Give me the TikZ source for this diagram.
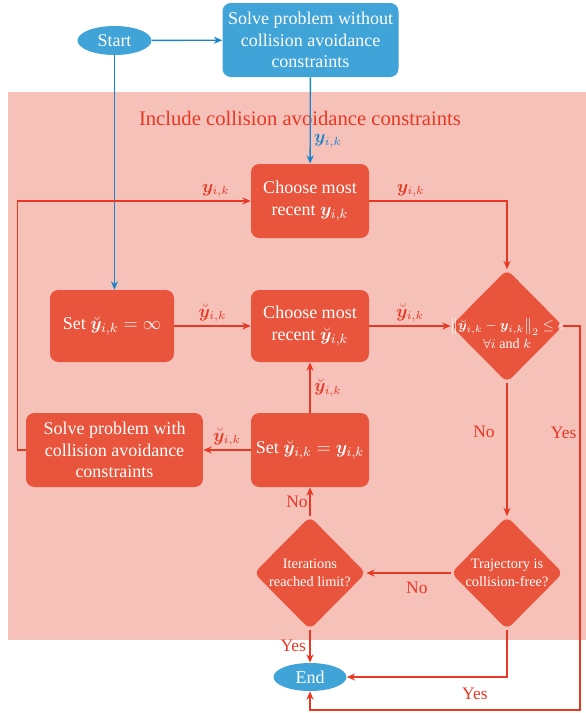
\documentclass[tikz,border=0pt]{standalone}
\usepackage{amsmath,bm}
\usepackage[no-math]{fontspec}
\setmainfont{Liberation Serif}
\usetikzlibrary{shapes.geometric,arrows.meta}
\definecolor{bgred}{RGB}{245,193,185}
\definecolor{boxred}{RGB}{232,84,60}
\definecolor{linered}{RGB}{232,56,36}
\definecolor{boxblue}{RGB}{64,164,216}
\definecolor{lineblue}{RGB}{24,132,204}
\tikzset{
  boxbase/.style={rectangle, rounded corners=5pt, text=white, align=center, inner sep=2pt, font=\fontsize{10.8}{13}\selectfont},
  bluebox/.style={boxbase, fill=boxblue},
  redbox/.style={boxbase, fill=boxred, minimum width=70.8pt, minimum height=44.4pt},
  ellbase/.style={ellipse, fill=boxblue, text=white, inner sep=0pt, minimum width=44.4pt, minimum height=17.4pt, font=\fontsize{10.8}{13}\selectfont},
  dia/.style={diamond, fill=boxred, rounded corners=4pt, inner sep=0pt, aspect=1, minimum width=67.2pt, minimum height=67.8pt},
  diatext/.style={text=white, align=center, inner sep=0pt, font=\fontsize{8.6}{11}\selectfont},
  rline/.style={draw=linered, line width=0.8pt, ->},
  bline/.style={draw=lineblue, line width=0.8pt, ->},
  rlab/.style={text=linered, font=\fontsize{10.5}{12}\selectfont, inner sep=2pt},
  blab/.style={text=lineblue, font=\fontsize{10.5}{12}\selectfont, inner sep=2pt},
  titletext/.style={text=linered, font=\fontsize{12.4}{14}\selectfont}
}
\begin{document}
\begin{tikzpicture}[x=0.6pt,y=-0.6pt, >={Stealth[length=5pt,width=4.2pt]}]
\useasboundingbox (0,0) rectangle (586,713);
\fill[bgred] (8,92) rectangle (586,640);
\node[titletext] (title) at (300,118) {Include collision avoidance constraints};

\node[ellbase] (start) at (114.5,40.5) {Start};
\node[bluebox, minimum width=105.6pt, minimum height=44.4pt] (solve0) at (310.5,40) {Solve problem without\\collision avoidance\\constraints};
\node[redbox] (chy) at (310,201) {Choose most\\recent $\bm{y}_{i,k}$};
\node[redbox, minimum width=74.4pt, minimum height=43.2pt] (setinf) at (112,326) {Set $\breve{\bm{y}}_{i,k}=\infty$};
\node[redbox, minimum height=43.2pt] (chb) at (310,326) {Choose most\\recent $\breve{\bm{y}}_{i,k}$};
\node[dia] (d1) at (507,326) {};
\node[diatext, font=\fontsize{8.5}{11}\selectfont, yshift=-4.5pt] (d1t) at (d1) {$\bigl\|\breve{\bm{y}}_{i,k}-\bm{y}_{i,k}\bigr\|_2\le\epsilon$\\$\forall i$ and $k$};
\node[redbox] (sety) at (310,450) {Set $\breve{\bm{y}}_{i,k}=\bm{y}_{i,k}$};
\node[redbox, minimum width=106.2pt] (solve1) at (114.5,450) {Solve problem with\\collision avoidance\\constraints};
\node[dia] (iter) at (310,573) {};
\node[diatext] (itert) at (iter) {Iterations\\reached limit?};
\node[dia] (traj) at (507,573) {};
\node[diatext] (trajt) at (traj) {Trajectory is\\collision-free?};
\node[ellbase, minimum width=43.8pt, minimum height=16.8pt] (end) at (310,677) {End};
\coordinate (yr) at (580,710);

\draw[bline] (start) -- (solve0);
\draw[bline] (start.south) -- (start.south |- setinf.north);
\draw[bline] (solve0) -- node[pos=0.74, right, blab] {$\bm{y}_{i,k}$} (chy);
\draw[rline] (chy.east) -| node[pos=0.15, above, rlab] {$\bm{y}_{i,k}$} (d1.north);
\draw[rline] (setinf) -- node[above, rlab] {$\breve{\bm{y}}_{i,k}$} (chb);
\draw[rline] (chb) -- node[above, rlab] {$\breve{\bm{y}}_{i,k}$} (d1);
\draw[rline] (d1) -- node[pos=0.37, left=5pt, rlab] {No} (traj);
\draw[rline] (d1.east) -| (yr) -| (end.south);
\node[rlab, left] (yeslab) at (580,433) {Yes};
\draw[rline] (traj) -- node[pos=0.4, below=3pt, rlab] {No} (iter);
\draw[rline] (traj.south) |- node[pos=0.6, below=4pt, rlab] {Yes} (end.east);
\draw[rline] (iter) -- node[left, rlab] {Yes} (end);
\draw[rline] (iter) -- node[left, rlab, inner sep=1pt] {No} (sety);
\draw[rline] (sety) -- node[right, rlab] {$\breve{\bm{y}}_{i,k}$} (chb);
\draw[rline] (sety) -- node[above, rlab] {$\breve{\bm{y}}_{i,k}$} (solve1);
\draw[rline] (solve1.west) -- ++(-8,0) |- node[pos=0.925, above, rlab] {$\bm{y}_{i,k}$} (chy.west);
\end{tikzpicture}
\end{document}
